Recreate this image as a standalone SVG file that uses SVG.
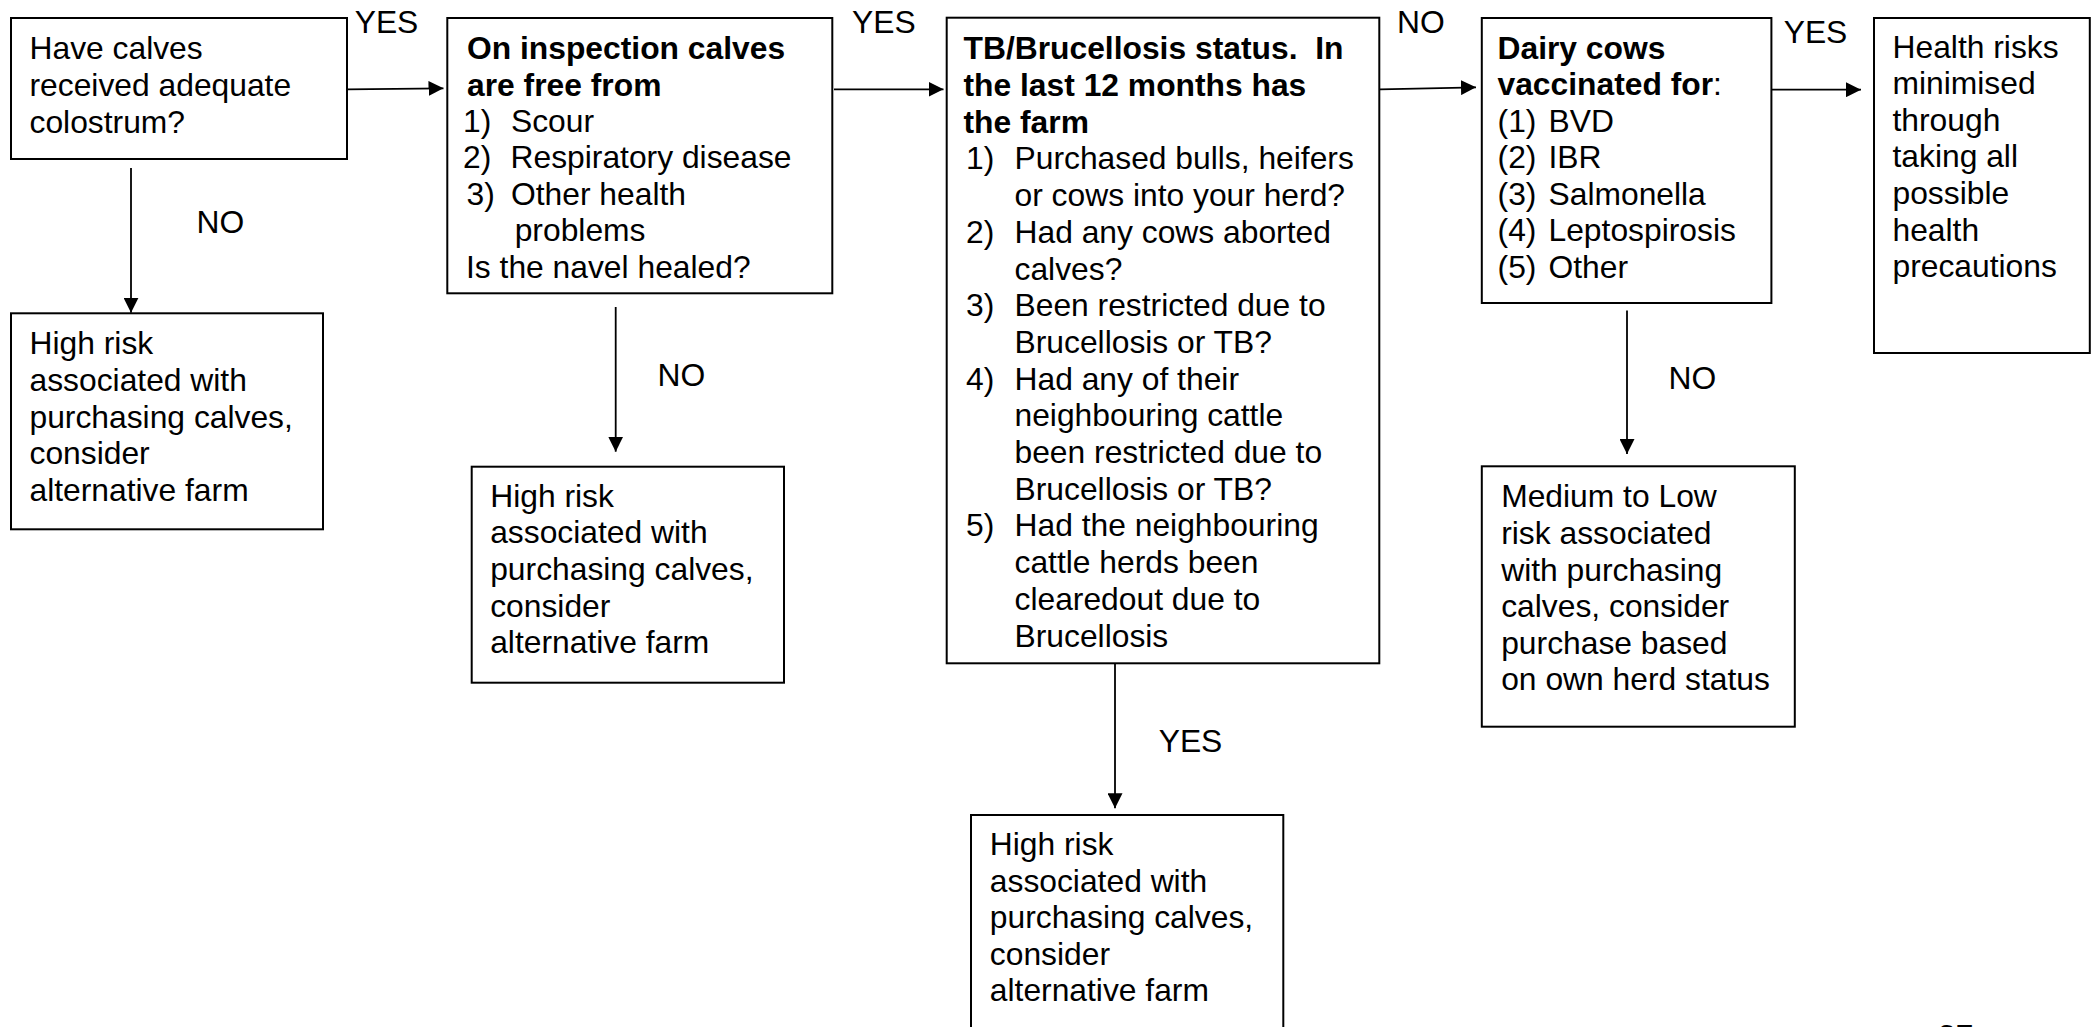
<svg xmlns="http://www.w3.org/2000/svg" width="2096" height="1027" viewBox="0 0 2096 1027">
<defs>
<style>
.box{fill:#fff;stroke:#000;stroke-width:2}
text{font-family:"Liberation Sans",Arial,sans-serif;font-size:31.8px;fill:#000}
.b{font-weight:bold}
.lbl{font-family:"Liberation Sans",Arial,sans-serif;font-size:31.8px}
.conn line{stroke:#000;stroke-width:1.8;marker-end:url(#ah)}
</style>
<marker id="ah" markerUnits="userSpaceOnUse" markerWidth="15" markerHeight="15" refX="15" refY="7.5" orient="auto">
<path d="M0,0 L15,7.5 L0,15 Z" fill="#000"/>
</marker>
</defs>
<rect width="2096" height="1027" fill="#fff"/>

<g id="connectors" class="conn">
<line x1="347" y1="89.3" x2="443.5" y2="88.3"/>
<line x1="131" y1="168" x2="131" y2="312.7"/>
<line x1="834" y1="89.3" x2="943.5" y2="89.3"/>
<line x1="615.7" y1="307" x2="615.7" y2="451.7"/>
<line x1="1380" y1="89.3" x2="1476" y2="87.3"/>
<line x1="1115" y1="663.3" x2="1115" y2="808.3"/>
<line x1="1771.4" y1="89.7" x2="1861" y2="89.7"/>
<line x1="1627" y1="310.5" x2="1627" y2="454"/>
</g>

<g id="edge-labels">
<text x="354.7" y="32.7">YES</text>
<text x="196.6" y="233.3">NO</text>
<text x="852" y="32.7">YES</text>
<text x="657.6" y="386">NO</text>
<text x="1397" y="32.7">NO</text>
<text x="1158.7" y="752.3">YES</text>
<text x="1783.7" y="43">YES</text>
<text x="1668.6" y="389.3">NO</text>
</g>

<g id="node-colostrum">
<rect class="box" x="11" y="18" width="336" height="141"/>
<text x="29.5" y="59.3">Have calves</text>
<text x="29.5" y="95.9">received adequate</text>
<text x="29.5" y="132.5">colostrum?</text>
</g>

<g id="node-highrisk-1">
<rect class="box" x="11" y="313.3" width="312" height="216"/>
<text x="29.5" y="354.3">High risk</text>
<text x="29.5" y="390.9">associated with</text>
<text x="29.5" y="427.5">purchasing calves,</text>
<text x="29.5" y="464.1">consider</text>
<text x="29.5" y="500.7">alternative farm</text>
</g>

<g id="node-inspection">
<rect class="box" x="447.3" y="18" width="385" height="275.3"/>
<text class="b" x="467" y="59.3">On inspection calves</text>
<text class="b" x="467" y="95.5">are free from</text>
<text x="463" y="131.7">1)</text><text x="511" y="131.7">Scour</text>
<text x="463" y="168.3">2)</text><text x="510.5" y="168.3">Respiratory disease</text>
<text x="466.5" y="204.5">3)</text><text x="511" y="204.5">Other health</text>
<text x="514.7" y="241">problems</text>
<text x="466" y="278">Is the navel healed?</text>
</g>

<g id="node-highrisk-2">
<rect class="box" x="471.7" y="466.7" width="312.3" height="216"/>
<text x="490.2" y="506.7">High risk</text>
<text x="490.2" y="543.3">associated with</text>
<text x="490.2" y="579.9">purchasing calves,</text>
<text x="490.2" y="616.5">consider</text>
<text x="490.2" y="653.1">alternative farm</text>
</g>

<g id="node-tb">
<rect class="box" x="946.7" y="17.7" width="432.6" height="645.6"/>
<text class="b" x="963.5" y="59.3" style="white-space:pre">TB/Brucellosis status.  In</text>
<text class="b" x="963.5" y="96">the last 12 months has</text>
<text class="b" x="963.5" y="132.7">the farm</text>
<text x="966" y="169.4">1)</text><text x="1014.5" y="169.4">Purchased bulls, heifers</text>
<text x="1014.5" y="206.1">or cows into your herd?</text>
<text x="966" y="242.8">2)</text><text x="1014.5" y="242.8">Had any cows aborted</text>
<text x="1014.5" y="279.5">calves?</text>
<text x="966" y="316.2">3)</text><text x="1014.5" y="316.2">Been restricted due to</text>
<text x="1014.5" y="352.9">Brucellosis or TB?</text>
<text x="966" y="389.6">4)</text><text x="1014.5" y="389.6">Had any of their</text>
<text x="1014.5" y="426.3">neighbouring cattle</text>
<text x="1014.5" y="463">been restricted due to</text>
<text x="1014.5" y="499.7">Brucellosis or TB?</text>
<text x="966" y="536.4">5)</text><text x="1014.5" y="536.4">Had the neighbouring</text>
<text x="1014.5" y="573.1">cattle herds been</text>
<text x="1014.5" y="609.8">clearedout due to</text>
<text x="1014.5" y="646.5">Brucellosis</text>
</g>

<g id="node-highrisk-3">
<rect class="box" x="971" y="815" width="312.3" height="230"/>
<text x="989.8" y="855">High risk</text>
<text x="989.8" y="891.6">associated with</text>
<text x="989.8" y="928.2">purchasing calves,</text>
<text x="989.8" y="964.8">consider</text>
<text x="989.8" y="1001.4">alternative farm</text>
</g>

<g id="node-vaccinated">
<rect class="box" x="1481.8" y="18" width="289.6" height="285"/>
<text class="b" x="1497.5" y="59">Dairy cows</text>
<text x="1497.5" y="95.3"><tspan class="b">vaccinated for</tspan>:</text>
<text x="1497.6" y="131.6">(1)</text><text x="1548.5" y="131.6">BVD</text>
<text x="1497.6" y="168.2">(2)</text><text x="1548.5" y="168.2">IBR</text>
<text x="1497.6" y="204.8">(3)</text><text x="1548.5" y="204.8">Salmonella</text>
<text x="1497.6" y="241.4">(4)</text><text x="1548.5" y="241.4">Leptospirosis</text>
<text x="1497.6" y="278">(5)</text><text x="1548.5" y="278">Other</text>
</g>

<g id="node-minimised">
<rect class="box" x="1874" y="18" width="215.8" height="335"/>
<text x="1892.5" y="57.6">Health risks</text>
<text x="1892.5" y="94.2">minimised</text>
<text x="1892.5" y="130.8">through</text>
<text x="1892.5" y="167.4">taking all</text>
<text x="1892.5" y="204">possible</text>
<text x="1892.5" y="240.6">health</text>
<text x="1892.5" y="277.2">precautions</text>
</g>

<g id="node-medium">
<rect class="box" x="1481.8" y="466.3" width="313" height="260.4"/>
<text x="1501.2" y="507.3">Medium to Low</text>
<text x="1501.2" y="543.9">risk associated</text>
<text x="1501.2" y="580.5">with purchasing</text>
<text x="1501.2" y="617.1">calves, consider</text>
<text x="1501.2" y="653.7">purchase based</text>
<text x="1501.2" y="690.3">on own herd status</text>
</g>

<text x="1938" y="1047">37</text>
</svg>
